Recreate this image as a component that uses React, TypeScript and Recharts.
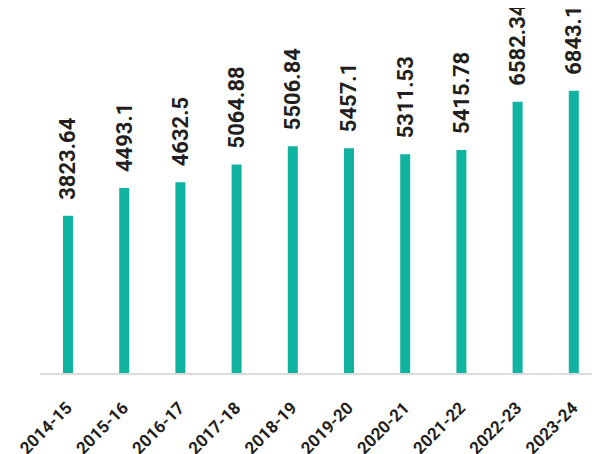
import React from "react";
import { BarChart, Bar, XAxis, YAxis, LabelList } from "recharts";

const categories = ["2014-15", "2015-16", "2016-17", "2017-18", "2018-19", "2019-20", "2020-21", "2021-22", "2022-23", "2023-24"];
const values = [3823.64, 4493.1, 4632.5, 5064.88, 5506.84, 5457.1, 5311.53, 5415.78, 6582.34, 6843.13];

const data = categories.map((c, i) => ({ name: c, value: values[i] }));

const FONT = "Roboto, 'DejaVu Sans', sans-serif";

const ValueLabel = (props: any) => {
  const { x, y, width, value } = props;
  const cx = x + width / 2;
  const ty = y - 16;
  return (
    <text
      x={cx}
      y={ty}
      transform={`rotate(-90, ${cx}, ${ty})`}
      textAnchor="start"
      dominantBaseline="central"
      fill="#231f20"
      fontFamily={FONT}
      fontWeight={700}
      fontSize={22}
    >
      {String(value)}
    </text>
  );
};

const Tick = (props: any) => {
  const { x, y, payload } = props;
  const ax = x + 5;
  const ay = y + 27;
  return (
    <text
      x={ax}
      y={ay}
      transform={`rotate(-45, ${ax}, ${ay})`}
      textAnchor="end"
      fill="#231f20"
      fontFamily={FONT}
      fontWeight={700}
      fontSize={17}
    >
      {payload.value}
    </text>
  );
};

export default function App() {
  return (
    <div style={{ marginTop: -8, marginLeft: -8, width: 604, height: 454 }}>
      <BarChart
        width={604}
        height={454}
        data={data}
        margin={{ top: 43, right: 2, bottom: 10, left: 40 }}
        barSize={10}
      >
        <XAxis
          dataKey="name"
          tick={<Tick />}
          tickLine={false}
          axisLine={{ stroke: "#dcdcdc", strokeWidth: 2 }}
          height={70}
          interval={0}
        />
        <YAxis hide domain={[0, 8000]} />
        <Bar dataKey="value" fill="#10b2a0" isAnimationActive={false}>
          <LabelList dataKey="value" content={<ValueLabel />} />
        </Bar>
      </BarChart>
    </div>
  );
}
